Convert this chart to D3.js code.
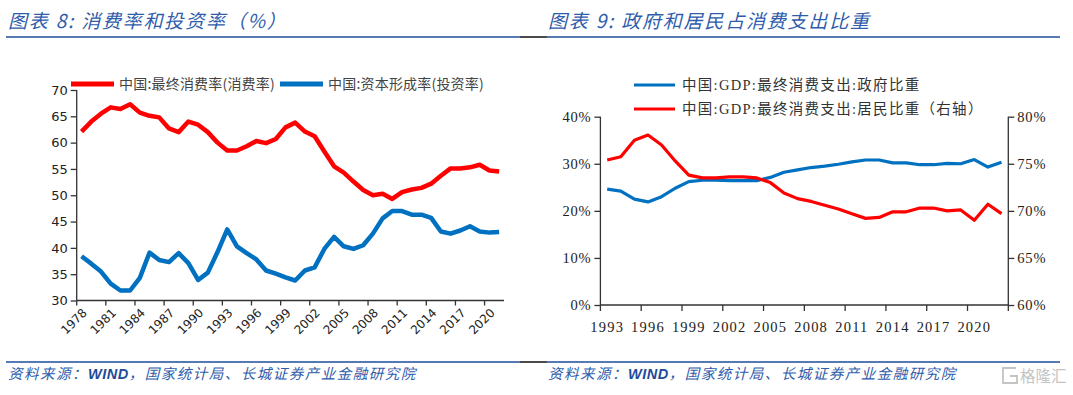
<!DOCTYPE html>
<html>
<head>
<meta charset="utf-8">
<script src="https://cdn.jsdelivr.net/npm/d3@7"></script>
<style>
  html, body { margin: 0; padding: 0; background: #fff; }
  svg { display: block; }
</style>
</head>
<body>
<div id="chart"></div>
<script>
// left chart: consumption / investment rate (%), 1978-2021
var yearsA = d3.range(1978, 2022);
var consumeRate = [62.1, 64.0, 65.5, 66.7, 66.4, 67.3, 65.7, 65.1, 64.8, 62.7,
  62.0, 64.0, 63.4, 62.0, 60.0, 58.5, 58.5, 59.3, 60.3, 59.9,
  60.7, 62.9, 63.8, 62.1, 61.2, 58.3, 55.5, 54.3, 52.6, 51.0,
  50.0, 50.3, 49.3, 50.6, 51.1, 51.4, 52.2, 53.7, 55.1, 55.1,
  55.3, 55.8, 54.7, 54.5];
var investRate = [38.4, 37.0, 35.5, 33.2, 31.9, 31.9, 34.3, 39.1, 37.7, 37.3,
  39.0, 37.1, 33.9, 35.3, 39.2, 43.5, 40.3, 39.0, 37.8, 35.7,
  35.1, 34.4, 33.8, 35.7, 36.3, 39.8, 42.1, 40.3, 39.8, 40.5,
  42.7, 45.6, 47.0, 47.0, 46.3, 46.3, 45.7, 43.1, 42.7, 43.3,
  44.1, 43.1, 42.9, 43.0];
var ticksA = [30, 35, 40, 45, 50, 55, 60, 65, 70];

// right chart: share of final consumption (%), 1993-2022
var yearsB = d3.range(1993, 2023);
var govShare = [24.6, 24.2, 22.5, 21.9, 23.0, 24.8, 26.2, 26.5, 26.5, 26.4,
  26.4, 26.4, 27.1, 28.2, 28.7, 29.2, 29.5, 29.9, 30.4, 30.8,
  30.8, 30.2, 30.2, 29.8, 29.8, 30.1, 30.0, 30.9, 29.3, 30.3];
var houseShare = [75.4, 75.75, 77.5, 78.05, 77.0, 75.3, 73.8, 73.5, 73.5, 73.6,
  73.6, 73.5, 73.0, 71.9, 71.3, 71.0, 70.6, 70.2, 69.7, 69.2,
  69.3, 69.9, 69.9, 70.3, 70.3, 70.0, 70.1, 69.0, 70.7, 69.7];
var ticksBLeft = [0, 10, 20, 30, 40];
var ticksBRight = [60, 65, 70, 75, 80];

var RED = "#ff0000", BLUE = "#0070c0", NAVY = "#1e4c9a", TITLE = "#2f5cab", AXIS = "#333";
var CJK = "'Noto Sans CJK SC', sans-serif";

var svg = d3.select("#chart").append("svg")
    .attr("width", 1073).attr("height", 395);
svg.append("rect").attr("width", 1073).attr("height", 395).attr("fill", "#fff");

// header / footer rules
[37, 362].forEach(function (y) {
  svg.append("line").attr("x1", 6).attr("x2", 520).attr("y1", y).attr("y2", y)
      .attr("stroke", NAVY).attr("stroke-width", 1.5);
  svg.append("line").attr("x1", 520).attr("x2", 547).attr("y1", y).attr("y2", y)
      .attr("stroke", "#111").attr("stroke-width", 1.5);
  svg.append("line").attr("x1", 547).attr("x2", 1060).attr("y1", y).attr("y2", y)
      .attr("stroke", NAVY).attr("stroke-width", 1.5);
});

function title(x, txt) {
  svg.append("text").attr("x", x).attr("y", 28)
      .attr("font-family", CJK).attr("font-size", 19).attr("font-style", "italic")
      .attr("letter-spacing", 1.8).attr("fill", TITLE).text(txt);
}
title(8, "图表 8:  消费率和投资率（%）");
title(548, "图表 9:  政府和居民占消费支出比重");

function source(x) {
  var t = svg.append("text").attr("x", x).attr("y", 379)
      .attr("font-family", CJK).attr("font-size", 14.5).attr("font-style", "italic")
      .attr("letter-spacing", 1.5).attr("fill", TITLE);
  t.append("tspan").text("资料来源：");
  t.append("tspan").attr("fill", NAVY).attr("font-family", "'Liberation Sans', sans-serif")
      .attr("font-weight", "bold").attr("letter-spacing", 0.5).text("WIND");
  t.append("tspan").text("，国家统计局、长城证券产业金融研究院");
}
source(8);
source(548);

// watermark
var wm = svg.append("g").attr("fill", "none").attr("stroke", "#c4c4c4").attr("stroke-width", 1.8);
wm.append("path").attr("d", "M1016,368 h-13 v15 h14 v-7 h-7");
svg.append("text").attr("x", 1020).attr("y", 382).attr("font-family", CJK)
    .attr("font-size", 15.5).attr("fill", "#c4c4c4").text("格隆汇");

// ---------- left chart ----------
(function () {
  var x = d3.scaleBand().domain(yearsA).range([76.7, 504]).padding(0);
  var y = d3.scaleLinear().domain([30, 70]).range([300.5, 90]);
  var cx = function (d, i) { return x(yearsA[i]) + x.bandwidth() / 2; };
  var g = svg.append("g");

  var line = d3.line().x(cx).y(function (d) { return y(d); });
  g.append("path").datum(investRate).attr("d", line).attr("fill", "none")
      .attr("stroke", BLUE).attr("stroke-width", 4.5).attr("stroke-linejoin", "round");
  g.append("path").datum(consumeRate).attr("d", line).attr("fill", "none")
      .attr("stroke", RED).attr("stroke-width", 4.5).attr("stroke-linejoin", "round");

  // y axis
  var ya = g.append("g").attr("transform", "translate(76.7,0)")
      .call(d3.axisLeft(y).tickValues(ticksA).tickSize(6).tickPadding(3));
  ya.select(".domain").attr("stroke", AXIS).attr("stroke-width", 1.3).attr("d", "M0,90V300.5");
  ya.selectAll(".tick line").attr("stroke", AXIS).attr("stroke-width", 1.3);
  ya.selectAll("text").attr("font-family", "'DejaVu Sans', sans-serif")
      .attr("font-size", 13).attr("fill", "#222");

  // x axis
  g.append("line").attr("x1", 76.7).attr("x2", 504).attr("y1", 300.5).attr("y2", 300.5)
      .attr("stroke", AXIS).attr("stroke-width", 1.3);
  var shown = yearsA.filter(function (d) { return (d - 1978) % 3 === 0; });
  var tk = g.selectAll(".xt").data(shown).join("g").attr("class", "xt")
      .attr("transform", function (d) { return "translate(" + x(d) + ",300.5)"; });
  tk.append("line").attr("y2", 5).attr("stroke", AXIS).attr("stroke-width", 1.3);
  tk.append("text").attr("transform", "translate(8,10) rotate(-45)")
      .attr("text-anchor", "end").attr("dy", "0.35em")
      .attr("font-family", "'DejaVu Sans', sans-serif").attr("font-size", 12).attr("fill", "#222")
      .text(function (d) { return d; });

  // legend
  var legA = [
    { name: "中国:最终消费率(消费率)", color: RED, x: 71 },
    { name: "中国:资本形成率(投资率)", color: BLUE, x: 280 }
  ];
  var lg = g.selectAll(".lg").data(legA).join("g")
      .attr("transform", function (d) { return "translate(" + d.x + ",84)"; });
  lg.append("line").attr("x2", 43).attr("stroke", function (d) { return d.color; })
      .attr("stroke-width", 5);
  lg.append("text").attr("x", 48).attr("dy", "0.36em").attr("font-family", CJK)
      .attr("font-size", 14).attr("letter-spacing", 0.2).attr("fill", "#444")
      .text(function (d) { return d.name; });
})();

// ---------- right chart ----------
(function () {
  var x = d3.scaleBand().domain(yearsB).range([600.4, 1008.3]).padding(0);
  var yl = d3.scaleLinear().domain([0, 40]).range([305, 116.7]);
  var yr = d3.scaleLinear().domain([60, 80]).range([305, 116.7]);
  var cx = function (d, i) { return x(yearsB[i]) + x.bandwidth() / 2; };
  var g = svg.append("g");
  var serif = "'Liberation Serif', 'Noto Sans CJK SC', serif";

  g.append("path").datum(govShare)
      .attr("d", d3.line().x(cx).y(function (d) { return yl(d); }))
      .attr("fill", "none").attr("stroke", BLUE).attr("stroke-width", 3.2).attr("stroke-linejoin", "round");
  g.append("path").datum(houseShare)
      .attr("d", d3.line().x(cx).y(function (d) { return yr(d); }))
      .attr("fill", "none").attr("stroke", RED).attr("stroke-width", 3.2).attr("stroke-linejoin", "round");

  var fmt = function (d) { return d + "%"; };
  var la = g.append("g").attr("transform", "translate(600.4,0)")
      .call(d3.axisLeft(yl).tickValues(ticksBLeft).tickFormat(fmt).tickSize(6).tickPadding(3));
  var ra = g.append("g").attr("transform", "translate(1008.3,0)")
      .call(d3.axisRight(yr).tickValues(ticksBRight).tickFormat(fmt).tickSize(6).tickPadding(3));
  [la, ra].forEach(function (a) {
    a.select(".domain").attr("stroke", AXIS).attr("stroke-width", 1.3).attr("d", "M0,116.7V305");
    a.selectAll(".tick line").attr("stroke", AXIS).attr("stroke-width", 1.3);
    a.selectAll("text").attr("font-family", serif).attr("font-size", 14.5)
        .attr("letter-spacing", 0.8).attr("fill", "#222");
  });

  g.append("line").attr("x1", 600.4).attr("x2", 1008.3).attr("y1", 305).attr("y2", 305)
      .attr("stroke", AXIS).attr("stroke-width", 1.3);
  var shown = yearsB.filter(function (d) { return (d - 1993) % 3 === 0; });
  var tk = g.selectAll(".xt").data(shown).join("g").attr("class", "xt")
      .attr("transform", function (d) { return "translate(" + x(d) + ",305)"; });
  tk.append("line").attr("y2", 6).attr("stroke", AXIS).attr("stroke-width", 1.3);
  tk.append("text").attr("x", x.bandwidth() / 2).attr("y", 27).attr("text-anchor", "middle")
      .attr("font-family", serif).attr("font-size", 14.5).attr("letter-spacing", 1.2).attr("fill", "#222")
      .text(function (d) { return d; });
  g.append("line").attr("x1", 1008.3).attr("x2", 1008.3).attr("y1", 305).attr("y2", 311)
      .attr("stroke", AXIS).attr("stroke-width", 1.3);

  var legB = [
    { name: "中国:GDP:最终消费支出:政府比重", color: BLUE, y: 85 },
    { name: "中国:GDP:最终消费支出:居民比重（右轴）", color: RED, y: 109 }
  ];
  var lg = g.selectAll(".lg").data(legB).join("g")
      .attr("transform", function (d) { return "translate(634," + d.y + ")"; });
  lg.append("line").attr("x2", 41).attr("stroke", function (d) { return d.color; })
      .attr("stroke-width", 3.2);
  lg.append("text").attr("x", 48).attr("dy", "0.36em").attr("font-family", serif)
      .attr("font-size", 14.5).attr("letter-spacing", 1.3).attr("fill", "#333")
      .text(function (d) { return d.name; });
})();
</script>
</body>
</html>
